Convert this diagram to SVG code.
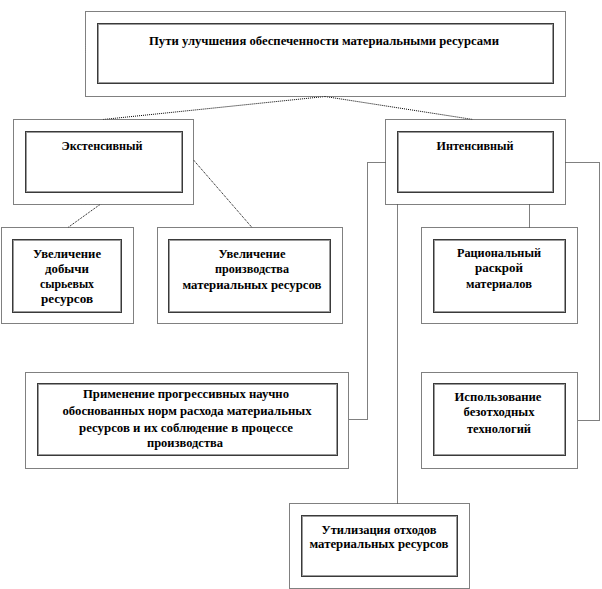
<svg xmlns="http://www.w3.org/2000/svg" width="602" height="589" viewBox="0 0 602 589">
<style>
.outer{fill:#fff;stroke:#000;stroke-width:1;stroke-dasharray:1 1}
.inner{fill:#fff;stroke:#3a3a3a;stroke-width:1}
.inner2{fill:none;stroke:#9a9a9a;stroke-width:1}
.conn{fill:none;stroke:#000;stroke-width:1;stroke-dasharray:1 1}
text{font-family:"Liberation Serif","Times New Roman",serif;font-weight:bold;font-size:11.5px;fill:#000;text-anchor:middle}
</style>
<rect width="602" height="589" fill="#fff"/>
<g id="connectors">
<line class="conn" x1="325" y1="96.5" x2="103" y2="119.5"/>
<line class="conn" x1="325" y1="96.5" x2="473" y2="119.5"/>
<line class="conn" x1="100" y1="204.5" x2="68" y2="227.5"/>
<line class="conn" x1="193.5" y1="160" x2="252" y2="227.5"/>
<line class="conn" x1="529.5" y1="204.5" x2="529.5" y2="227.5"/>
<polyline class="conn" points="385.5,162.5 367.5,162.5 367.5,419.5 348.5,419.5"/>
<line class="conn" x1="397.5" y1="204.5" x2="397.5" y2="503.5"/>
<polyline class="conn" points="565.5,162.5 599.5,162.5 599.5,420.5 577.5,420.5"/>
</g>
<g id="root">
<rect class="outer" x="85.5" y="11.5" width="480" height="85"/>
<rect class="inner" x="97.5" y="23.5" width="456" height="60"/>
<rect class="inner2" x="98.5" y="24.5" width="454" height="58"/>
<text x="324" y="45" textLength="350" lengthAdjust="spacingAndGlyphs">Пути улучшения обеспеченности материальными ресурсами</text>
</g>
<g id="extensive">
<rect class="outer" x="13.5" y="119.5" width="180" height="85"/>
<rect class="inner" x="25.5" y="131.5" width="157" height="61"/>
<rect class="inner2" x="26.5" y="132.5" width="155" height="59"/>
<text x="102" y="150" textLength="81" lengthAdjust="spacingAndGlyphs">Экстенсивный</text>
</g>
<g id="intensive">
<rect class="outer" x="385.5" y="119.5" width="180" height="85"/>
<rect class="inner" x="397.5" y="131.5" width="156" height="61"/>
<rect class="inner2" x="398.5" y="132.5" width="154" height="59"/>
<text x="475" y="150" textLength="77" lengthAdjust="spacingAndGlyphs">Интенсивный</text>
</g>
<g id="raw">
<rect class="outer" x="1.5" y="227.5" width="132" height="96"/>
<rect class="inner" x="12.5" y="239.5" width="109" height="73"/>
<rect class="inner2" x="13.5" y="240.5" width="107" height="71"/>
<text x="67" y="258" textLength="68" lengthAdjust="spacingAndGlyphs">Увеличение</text>
<text x="67" y="273" textLength="44" lengthAdjust="spacingAndGlyphs">добычи</text>
<text x="67" y="288" textLength="54" lengthAdjust="spacingAndGlyphs">сырьевых</text>
<text x="67" y="303" textLength="52" lengthAdjust="spacingAndGlyphs">ресурсов</text>
</g>
<g id="production">
<rect class="outer" x="157.5" y="227.5" width="185" height="96"/>
<rect class="inner" x="168.5" y="239.5" width="162" height="73"/>
<rect class="inner2" x="169.5" y="240.5" width="160" height="71"/>
<text x="252" y="258" textLength="67" lengthAdjust="spacingAndGlyphs">Увеличение</text>
<text x="252" y="273" textLength="74" lengthAdjust="spacingAndGlyphs">производства</text>
<text x="252" y="289" textLength="139" lengthAdjust="spacingAndGlyphs">материальных  ресурсов</text>
</g>
<g id="cutting">
<rect class="outer" x="421.5" y="227.5" width="156" height="96"/>
<rect class="inner" x="433.5" y="239.5" width="132" height="73"/>
<rect class="inner2" x="434.5" y="240.5" width="130" height="71"/>
<text x="499" y="257" textLength="84" lengthAdjust="spacingAndGlyphs">Рациональный</text>
<text x="499" y="272" textLength="48" lengthAdjust="spacingAndGlyphs">раскрой</text>
<text x="499" y="288" textLength="66" lengthAdjust="spacingAndGlyphs">материалов</text>
</g>
<g id="norms">
<rect class="outer" x="25.5" y="372.5" width="323" height="96"/>
<rect class="inner" x="37.5" y="383.5" width="300" height="72"/>
<rect class="inner2" x="38.5" y="384.5" width="298" height="70"/>
<text x="186" y="398" textLength="206" lengthAdjust="spacingAndGlyphs">Применение прогрессивных научно</text>
<text x="187" y="415" textLength="249" lengthAdjust="spacingAndGlyphs">обоснованных норм расхода материальных</text>
<text x="186" y="432" textLength="214" lengthAdjust="spacingAndGlyphs">ресурсов и их  соблюдение в процессе</text>
<text x="185" y="447" textLength="76" lengthAdjust="spacingAndGlyphs">производства</text>
</g>
<g id="wasteless">
<rect class="outer" x="421.5" y="372.5" width="156" height="96"/>
<rect class="inner" x="433.5" y="383.5" width="132" height="72"/>
<rect class="inner2" x="434.5" y="384.5" width="130" height="70"/>
<text x="498" y="401" textLength="87" lengthAdjust="spacingAndGlyphs">Использование</text>
<text x="499" y="416" textLength="71" lengthAdjust="spacingAndGlyphs">безотходных</text>
<text x="499" y="433" textLength="64" lengthAdjust="spacingAndGlyphs">технологий</text>
</g>
<g id="recycling">
<rect class="outer" x="289.5" y="503.5" width="180" height="85"/>
<rect class="inner" x="301.5" y="515.5" width="156" height="61"/>
<rect class="inner2" x="302.5" y="516.5" width="154" height="59"/>
<text x="379" y="534" textLength="115" lengthAdjust="spacingAndGlyphs">Утилизация  отходов</text>
<text x="379" y="548" textLength="139" lengthAdjust="spacingAndGlyphs">материальных  ресурсов</text>
</g>
</svg>
